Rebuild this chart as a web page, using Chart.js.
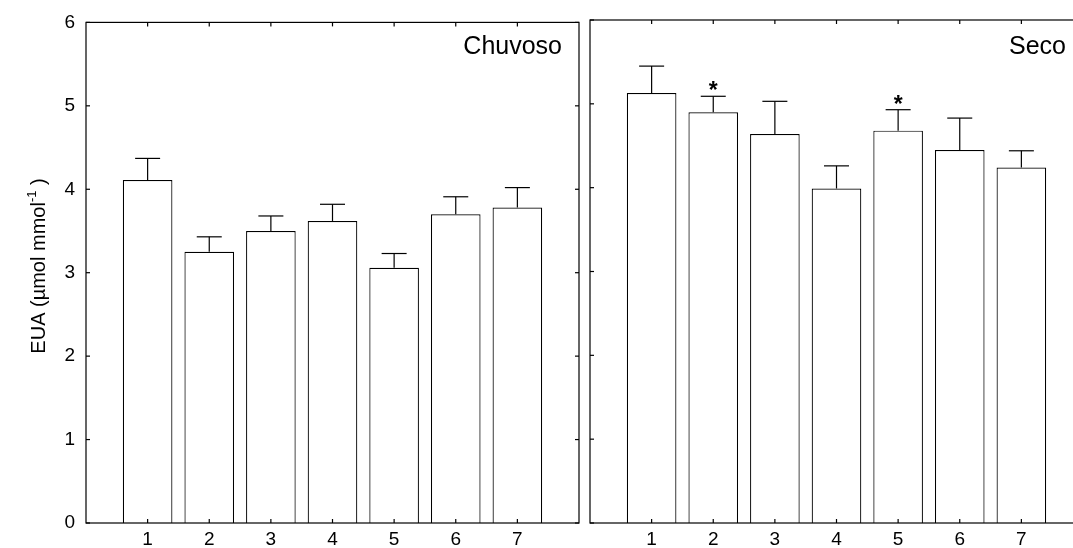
<!DOCTYPE html>
<html>
<head>
<meta charset="utf-8">
<script src="https://cdn.jsdelivr.net/npm/chart.js@4.4.1/dist/chart.umd.min.js"></script>
<style>
html, body { margin: 0; padding: 0; background: #fff; overflow: hidden; }
#wrap { position: relative; width: 1073px; height: 548px; overflow: hidden; }
#chuvoso { position: absolute; left: 0; top: 0; }
#seco { position: absolute; left: 584px; top: 0; }
</style>
</head>
<body>
<div id="wrap">
  <canvas id="chuvoso" width="584" height="548"></canvas>
  <canvas id="seco" width="510" height="548"></canvas>
</div>
<script>
// x categories (treatments 1..7)
const categories = [1, 2, 3, 4, 5, 6, 7];
const yTicks = [0, 1, 2, 3, 4, 5, 6];

// Chuvoso (rainy season): means and upper error
const chuvosoValues = [4.11, 3.25, 3.50, 3.62, 3.06, 3.70, 3.78];
const chuvosoErrors = [0.26, 0.18, 0.18, 0.20, 0.17, 0.21, 0.24];
const chuvosoMarks = ['', '', '', '', '', '', ''];

// Seco (dry season)
const secoValues = [5.13, 4.90, 4.64, 3.99, 4.68, 4.45, 4.24];
const secoErrors = [0.32, 0.19, 0.39, 0.27, 0.25, 0.38, 0.20];
const secoMarks = ['', '*', '', '', '*', '', ''];

const FONT = '"Liberation Sans", Arial, sans-serif';

function line(ctx, x1, y1, x2, y2) {
    ctx.beginPath();
    ctx.moveTo(x1, y1);
    ctx.lineTo(x2, y2);
    ctx.stroke();
}

// draws error bars, asterisks, frame with inward ticks, panel title, y title
const panelPlugin = {
    id: 'panel',
    afterDatasetsDraw(chart, args, opts) {
        const ctx = chart.ctx;
        const a = chart.chartArea;
        const x = chart.scales.x;
        const y = chart.scales.y;
        ctx.save();
        ctx.strokeStyle = '#000';
        ctx.fillStyle = '#000';
        ctx.lineWidth = 1.2;

        // error bars
        opts.values.forEach(function (v, i) {
            const px = x.getPixelForValue(categories[i]);
            const y0 = y.getPixelForValue(v);
            const y1 = y.getPixelForValue(v + opts.errors[i]);
            line(ctx, px, y0, px, y1);
            line(ctx, px - 12.5, y1, px + 12.5, y1);
            if (opts.marks[i]) {
                ctx.font = 'bold 23px ' + FONT;
                ctx.textAlign = 'center';
                ctx.textBaseline = 'alphabetic';
                ctx.fillText(opts.marks[i], px, y1 + 2);
            }
        });

        // frame
        ctx.strokeRect(a.left, a.top, a.right - a.left, a.bottom - a.top);
        yTicks.forEach(function (t) {
            const py = y.getPixelForValue(t);
            line(ctx, a.left, py, a.left + 4, py);
            line(ctx, a.right, py, a.right - 4, py);
        });
        categories.forEach(function (c) {
            const px = x.getPixelForValue(c);
            line(ctx, px, a.bottom, px, a.bottom - 4);
            line(ctx, px, a.top, px, a.top + 4);
        });

        // panel title
        ctx.font = '25px ' + FONT;
        ctx.textAlign = 'right';
        ctx.textBaseline = 'middle';
        ctx.fillText(opts.title, a.left + 476, 47);

        // y axis title with superscript
        if (opts.yTitle) {
            const main = 'EUA (µmol mmol';
            const sup = '-1';
            const tail = ' )';
            ctx.font = '20px ' + FONT;
            const w1 = ctx.measureText(main).width;
            const w3 = ctx.measureText(tail).width;
            ctx.font = '13px ' + FONT;
            const w2 = ctx.measureText(sup).width;
            const total = w1 + w2 + w3;
            ctx.translate(45, 266);
            ctx.rotate(-Math.PI / 2);
            ctx.textAlign = 'left';
            ctx.textBaseline = 'alphabetic';
            let cx = -total / 2;
            ctx.font = '20px ' + FONT;
            ctx.fillText(main, cx, 0);
            cx += w1;
            ctx.font = '13px ' + FONT;
            ctx.fillText(sup, cx, -9);
            cx += w2;
            ctx.font = '20px ' + FONT;
            ctx.fillText(tail, cx, 0);
        }
        ctx.restore();
    }
};

function makeChart(id, values, errors, marks, title, showY, axisWidth, rightPad) {
    const ctx = document.getElementById(id).getContext('2d');
    return new Chart(ctx, {
        type: 'bar',
        data: {
            datasets: [{
                data: categories.map(function (c, i) { return { x: c, y: values[i] }; }),
                backgroundColor: '#fff',
                borderColor: '#000',
                borderWidth: 1.2,
                barPercentage: 0.805,
                categoryPercentage: 1
            }]
        },
        options: {
            responsive: false,
            animation: false,
            layout: { padding: { top: 20, right: rightPad, left: 0, bottom: 0 } },
            plugins: {
                legend: { display: false },
                tooltip: { enabled: false },
                panel: { values: values, errors: errors, marks: marks, title: title, yTitle: showY }
            },
            scales: {
                x: {
                    type: 'linear',
                    offset: false,
                    min: 0,
                    max: 8,
                    grid: { display: false, drawTicks: false },
                    border: { display: false },
                    ticks: {
                        stepSize: 1,
                        autoSkip: false,
                        maxRotation: 0,
                        color: '#000',
                        font: { family: FONT, size: 19 },
                        padding: 5,
                        callback: function (v) { return (v >= 1 && v <= 7) ? String(v) : ''; }
                    },
                    afterFit: function (s) { s.height = 25; }
                },
                y: {
                    min: 0,
                    max: 6,
                    grid: { display: false, drawTicks: false },
                    border: { display: false },
                    ticks: {
                        stepSize: 1,
                        display: showY,
                        color: '#000',
                        font: { family: FONT, size: 19 },
                        padding: 11
                    },
                    afterFit: function (s) { s.width = axisWidth; }
                }
            }
        },
        plugins: [panelPlugin]
    });
}

makeChart('chuvoso', chuvosoValues, chuvosoErrors, chuvosoMarks, 'Chuvoso', true, 86, 5);
makeChart('seco', secoValues, secoErrors, secoMarks, 'Seco', false, 6, 11);
</script>
</body>
</html>
